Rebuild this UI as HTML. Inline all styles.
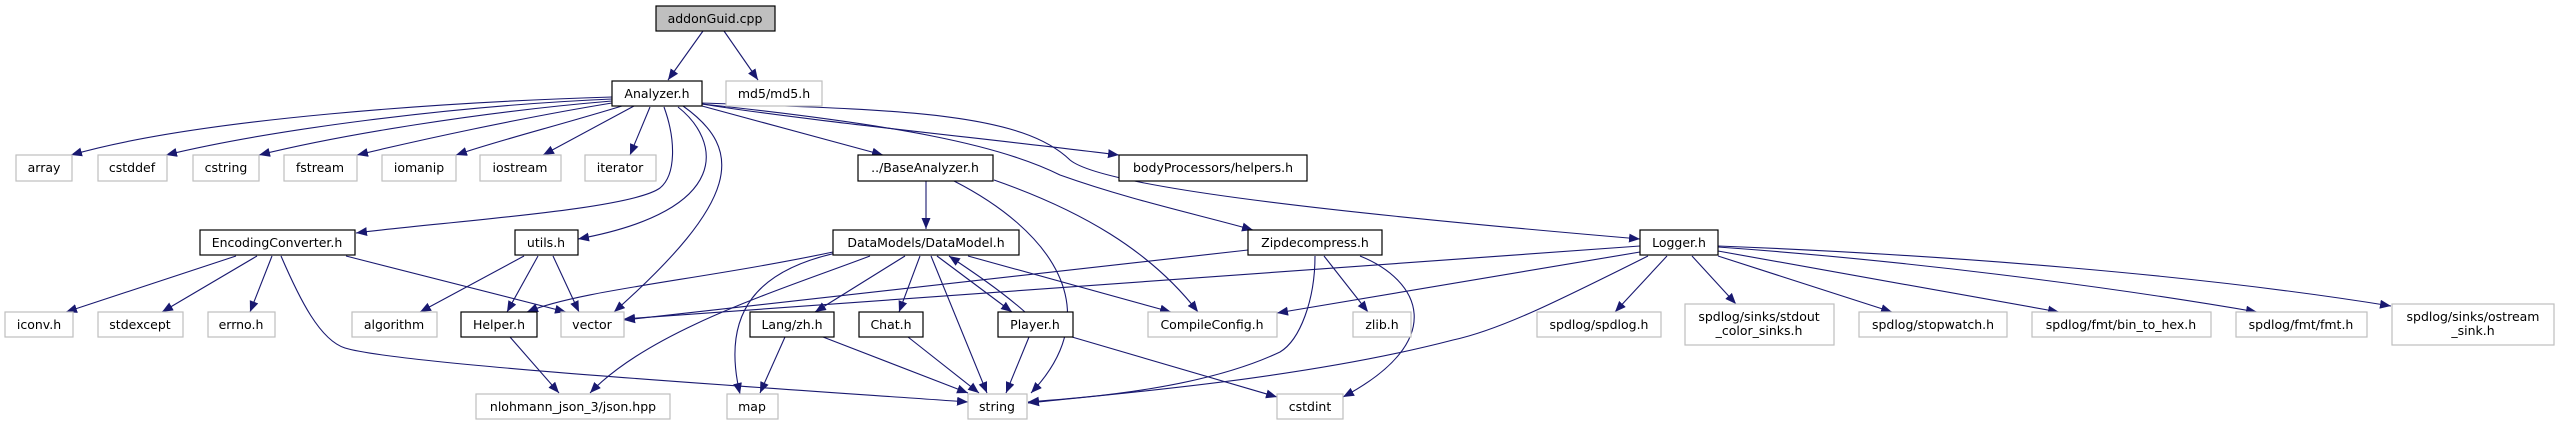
<!DOCTYPE html>
<html><head><meta charset="utf-8"><style>
html,body{margin:0;padding:0;background:#fff;}
svg{display:block;}
text{font-family:"DejaVu Sans","Liberation Sans",sans-serif;font-size:12.5px;fill:#000;text-anchor:middle;}
.b{fill:#fff;stroke:#000;stroke-width:1.2;}
.g{fill:#fff;stroke:#bfbfbf;stroke-width:1.2;}
.e{fill:none;stroke:#191970;stroke-width:1.1;}
</style></head><body>
<svg width="2555" height="425" viewBox="0 0 2555 425" xmlns="http://www.w3.org/2000/svg">
<defs><marker id="a" markerUnits="userSpaceOnUse" markerWidth="12" markerHeight="10" refX="11" refY="4.5" orient="auto"><path d="M0,0 L11,4.5 L0,9 z" fill="#191970"/></marker></defs>
<g class="e" marker-end="url(#a)">
<path d="M703,31 L668,80"/>
<path d="M724,31 L758,80"/>
<path d="M612,97 C450,102 200,118 71,155"/>
<path d="M612,99 C450,106 270,130 166,155"/>
<path d="M612,101 C480,112 340,135 259,155"/>
<path d="M612,103 C520,118 420,140 357,155"/>
<path d="M622,106 C560,125 500,140 456,155"/>
<path d="M634,106 L543,155"/>
<path d="M650,107 L630,155"/>
<path d="M664,107 C676,140 676,175 660,188 C630,210 440,222 356,233"/>
<path d="M678,107 C720,140 735,210 578,239"/>
<path d="M683,106 C745,150 740,200 614,312"/>
<path d="M702,106 L883,155"/>
<path d="M702,104 C800,120 1000,140 1119,155"/>
<path d="M702,104 C900,125 1000,145 1060,175 C1130,200 1200,215 1253,230"/>
<path d="M702,103 C900,110 1020,112 1070,160 C1100,185 1300,210 1640,239"/>
<path d="M926,181 L926,229"/>
<path d="M954,181 C1050,230 1110,310 1031,393"/>
<path d="M994,180 C1080,210 1150,250 1198,312"/>
<path d="M833,252 C700,280 580,290 527,312"/>
<path d="M870,256 C780,290 650,330 590,393"/>
<path d="M836,253 C760,270 720,310 740,394"/>
<path d="M905,256 L815,312"/>
<path d="M920,256 L899,312"/>
<path d="M931,256 L987,393"/>
<path d="M937,256 L1012,312"/>
<path d="M1025,312 C1000,290 970,270 949,256"/>
<path d="M968,256 L1171,312"/>
<path d="M785,337 L760,393"/>
<path d="M823,337 L968,393"/>
<path d="M908,337 L979,393"/>
<path d="M1029,337 L1006,393"/>
<path d="M1072,337 L1277,397"/>
<path d="M236,256 L66,312"/>
<path d="M257,256 L162,312"/>
<path d="M272,256 L250,312"/>
<path d="M346,256 L566,312"/>
<path d="M281,256 C300,300 320,340 345,348 C400,365 800,390 968,402"/>
<path d="M524,256 L420,312"/>
<path d="M538,256 L507,312"/>
<path d="M553,256 L579,312"/>
<path d="M510,337 L559,393"/>
<path d="M1248,250 L624,320"/>
<path d="M1315,256 C1315,300 1300,340 1280,352 C1200,390 1080,398 1028,402"/>
<path d="M1324,256 L1368,312"/>
<path d="M1360,256 C1420,280 1450,340 1343,397"/>
<path d="M1640,246 L624,319"/>
<path d="M1640,252 L1277,313"/>
<path d="M1648,256 C1560,300 1500,330 1453,340 C1300,380 1100,395 1028,403"/>
<path d="M1667,256 L1615,312"/>
<path d="M1692,256 L1736,304"/>
<path d="M1718,256 L1892,312"/>
<path d="M1718,251 L2059,312"/>
<path d="M1718,247 C1900,260 2100,285 2257,312"/>
<path d="M1718,246 C1950,255 2200,275 2391,306"/>
</g>
<rect x="656" y="6" width="119" height="25" fill="#bfbfbf" stroke="#000" stroke-width="1.2"/><text x="715" y="23">addonGuid.cpp</text>
<rect class="b" x="612" y="81" width="90" height="25"/><text x="657" y="98">Analyzer.h</text>
<rect class="g" x="726" y="81" width="96" height="25"/><text x="774" y="98">md5/md5.h</text>
<rect class="g" x="16" y="155" width="56" height="26"/><text x="44" y="172">array</text>
<rect class="g" x="98" y="155" width="69" height="26"/><text x="132" y="172">cstddef</text>
<rect class="g" x="193" y="155" width="66" height="26"/><text x="226" y="172">cstring</text>
<rect class="g" x="284" y="155" width="73" height="26"/><text x="320" y="172">fstream</text>
<rect class="g" x="382" y="155" width="74" height="26"/><text x="419" y="172">iomanip</text>
<rect class="g" x="480" y="155" width="81" height="26"/><text x="520" y="172">iostream</text>
<rect class="g" x="585" y="155" width="71" height="26"/><text x="620" y="172">iterator</text>
<rect class="b" x="858" y="155" width="135" height="26"/><text x="925" y="172">../BaseAnalyzer.h</text>
<rect class="b" x="1119" y="155" width="188" height="26"/><text x="1213" y="172">bodyProcessors/helpers.h</text>
<rect class="b" x="200" y="230" width="155" height="25"/><text x="277" y="247">EncodingConverter.h</text>
<rect class="b" x="515" y="230" width="63" height="25"/><text x="546" y="247">utils.h</text>
<rect class="b" x="833" y="230" width="186" height="25"/><text x="926" y="247">DataModels/DataModel.h</text>
<rect class="b" x="1248" y="230" width="134" height="25"/><text x="1315" y="247">Zipdecompress.h</text>
<rect class="b" x="1640" y="230" width="78" height="25"/><text x="1679" y="247">Logger.h</text>
<rect class="g" x="5" y="312" width="68" height="25"/><text x="39" y="329">iconv.h</text>
<rect class="g" x="98" y="312" width="85" height="25"/><text x="140" y="329">stdexcept</text>
<rect class="g" x="208" y="312" width="67" height="25"/><text x="241" y="329">errno.h</text>
<rect class="g" x="352" y="312" width="85" height="25"/><text x="394" y="329">algorithm</text>
<rect class="b" x="461" y="312" width="76" height="25"/><text x="499" y="329">Helper.h</text>
<rect class="g" x="561" y="312" width="63" height="25"/><text x="592" y="329">vector</text>
<rect class="b" x="750" y="312" width="84" height="25"/><text x="792" y="329">Lang/zh.h</text>
<rect class="b" x="859" y="312" width="64" height="25"/><text x="891" y="329">Chat.h</text>
<rect class="b" x="998" y="312" width="75" height="25"/><text x="1035" y="329">Player.h</text>
<rect class="g" x="1148" y="312" width="129" height="25"/><text x="1212" y="329">CompileConfig.h</text>
<rect class="g" x="1353" y="312" width="58" height="25"/><text x="1382" y="329">zlib.h</text>
<rect class="g" x="1537" y="312" width="124" height="25"/><text x="1599" y="329">spdlog/spdlog.h</text>
<rect class="g" x="1685" y="304" width="149" height="41"/><text x="1759" y="321">spdlog/sinks/stdout</text><text x="1759" y="335">_color_sinks.h</text>
<rect class="g" x="1859" y="312" width="148" height="25"/><text x="1933" y="329">spdlog/stopwatch.h</text>
<rect class="g" x="2032" y="312" width="179" height="25"/><text x="2121" y="329">spdlog/fmt/bin_to_hex.h</text>
<rect class="g" x="2236" y="312" width="131" height="25"/><text x="2301" y="329">spdlog/fmt/fmt.h</text>
<rect class="g" x="2392" y="304" width="162" height="41"/><text x="2473" y="321">spdlog/sinks/ostream</text><text x="2473" y="335">_sink.h</text>
<rect class="g" x="476" y="394" width="194" height="25"/><text x="573" y="411">nlohmann_json_3/json.hpp</text>
<rect class="g" x="727" y="394" width="51" height="25"/><text x="752" y="411">map</text>
<rect class="g" x="968" y="394" width="59" height="25"/><text x="997" y="411">string</text>
<rect class="g" x="1277" y="394" width="66" height="25"/><text x="1310" y="411">cstdint</text>
</svg>
</body></html>
